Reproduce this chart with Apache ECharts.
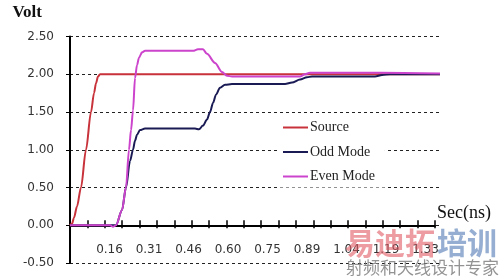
<!DOCTYPE html>
<html><head><meta charset="utf-8">
<script src="https://cdn.jsdelivr.net/npm/echarts@6/dist/echarts.min.js"></script>
<style>html,body{margin:0;padding:0;background:#fff}#c{width:500px;height:280px}</style>
</head><body><div id="c"></div>
<script>
// Data (x in ns, y in volts)
const seriesNames = ['Source', 'Odd Mode', 'Even Mode'];
const sourceX = [0, 0.0074, 0.0148, 0.0259, 0.0407, 0.0592, 0.0778, 0.0889, 0.0963, 0.1037, 0.1111, 1.3699];
const sourceY = [0, 0.02, 0.1, 0.25, 0.5, 1.0, 1.5, 1.75, 1.88, 1.97, 2.0, 2.0];
const oddX = [0, 0.1703, 0.1925, 0.2073, 0.2222, 0.2333, 0.2407, 0.2481, 0.2592, 0.2777, 0.4628, 0.4776, 0.4924, 0.5072, 0.5184, 0.5295, 0.5406, 0.5554, 0.5739, 0.5998, 0.7961, 0.8220, 0.8516, 0.8775, 0.8960, 1.1293, 1.1552, 1.1848, 1.3699];
const oddY = [0, 0, 0.2, 0.5, 0.85, 1.0, 1.12, 1.2, 1.26, 1.28, 1.28, 1.27, 1.32, 1.4, 1.5, 1.62, 1.73, 1.82, 1.86, 1.87, 1.87, 1.89, 1.93, 1.96, 1.97, 1.97, 1.99, 2.0, 2.0];
const evenX = [0, 0.1481, 0.1592, 0.1703, 0.1925, 0.2073, 0.2184, 0.2259, 0.2333, 0.2407, 0.2481, 0.2555, 0.2666, 0.2777, 0.4554, 0.4739, 0.4924, 0.5072, 0.5369, 0.5628, 0.5813, 0.5998, 0.8516, 0.8701, 0.8886, 1.1478, 1.3699];
const evenY = [0, 0, -0.02, 0, 0.2, 0.5, 1.0, 1.26, 1.52, 1.95, 2.12, 2.22, 2.29, 2.31, 2.31, 2.33, 2.33, 2.27, 2.15, 2.03, 1.98, 1.97, 1.97, 2.0, 2.02, 2.02, 2.01];
const xTickLabels = ['0.16', '0.31', '0.46', '0.60', '0.75', '0.89', '1.04', '1.19', '1.33'];
const yMin = -0.5, yMax = 2.5, yStep = 0.5;
const tickStep = 0.06435, tickCount = 21;
const labelStep = 0.14625;
const dataXMax = 1.3773;

const zip = (xs, ys) => xs.map((x, i) => [x, ys[i]]);
const colors = ['#c8323a', '#1a1a55', '#cc44cc'];
const serif = 'Liberation Serif';
const gridTop = 36.5, gridBottom = 17, chartH = 280;
// raise the bottom axes to the y = 0 line of the value scale
const zeroOffset = -((0 - yMin) / (yMax - yMin)) * (chartH - gridTop - gridBottom);

const chart = echarts.init(document.getElementById('c'), null, {renderer: 'canvas'});
const axisMax = tickStep * tickCount;
chart.setOption({
  animation: false,
  backgroundColor: '#fff',
  grid: [
    {left: 70, right: 58, top: gridTop, bottom: gridBottom, containLabel: false, outerBoundsMode: 'none'},
    {left: 70, right: 65, top: gridTop, bottom: gridBottom, containLabel: false, outerBoundsMode: 'none'}
  ],
  xAxis: [
    {gridIndex: 0, type: 'value', min: 0, max: dataXMax, show: false},
    {gridIndex: 1, type: 'value', position: 'bottom', offset: zeroOffset, min: 0, max: axisMax, interval: tickStep,
      axisLine: {show: true, onZero: false, lineStyle: {color: '#000', width: 2}},
      axisTick: {show: true, length: 3, lineStyle: {color: '#000', width: 1.5}},
      axisLabel: {show: false}, splitLine: {show: false},
      name: 'Sec(ns)', nameLocation: 'end', nameGap: 2,
      nameTextStyle: {fontFamily: serif, fontSize: 18, color: '#111', align: 'left', verticalAlign: 'bottom', lineHeight: 24}
    },
    {gridIndex: 1, type: 'value', position: 'bottom', offset: zeroOffset, min: 0, max: axisMax, interval: tickStep,
      axisLine: {show: false, onZero: false},
      axisTick: {show: true, inside: true, length: 5, lineStyle: {color: '#000', width: 1.5}},
      axisLabel: {show: false}, splitLine: {show: false}
    },
    {gridIndex: 1, type: 'value', position: 'bottom', offset: zeroOffset, min: 0, max: axisMax, interval: labelStep,
      axisLine: {show: false, onZero: false},
      axisTick: {show: false}, splitLine: {show: false},
      axisLabel: {show: true, margin: 19, fontFamily: 'DejaVu Sans', fontSize: 12, color: '#333',
        showMinLabel: false,
        formatter: v => {
          const k = Math.round(v / labelStep);
          if (Math.abs(v / labelStep - k) > 0.01) return '';
          return xTickLabels[k - 1] || '';
        }}
    }
  ],
  yAxis: [
    {gridIndex: 0, type: 'value', min: yMin, max: yMax, interval: yStep,
      axisLine: {show: true, onZero: false, lineStyle: {color: '#000', width: 2}},
      axisTick: {show: true, length: 4, lineStyle: {color: '#000'}},
      axisLabel: {margin: 16, fontFamily: 'DejaVu Sans', fontSize: 12, color: '#333', formatter: v => v.toFixed(2)},
      splitLine: {show: true, lineStyle: {color: '#222', width: 1, type: [3, 3]}},
      name: 'Volt', nameLocation: 'end', nameGap: 15,
      nameTextStyle: {fontFamily: serif, fontSize: 17, fontWeight: 'bold', color: '#111', align: 'right', padding: [0, 28, 0, 0]}
    },
    {gridIndex: 1, type: 'value', min: yMin, max: yMax, interval: yStep, show: false}
  ],
  legend: {
    orient: 'vertical', left: 280, top: 116.5, icon: 'rect', itemWidth: 25, itemHeight: 2, itemGap: 10.5,
    backgroundColor: '#fff', padding: [4, 10, 4, 3],
    textStyle: {fontFamily: serif, fontSize: 14, color: '#222', padding: [0, 0, 0, -3]},
    data: seriesNames
  },
  series: [
    {name: seriesNames[0], type: 'line', xAxisIndex: 0, yAxisIndex: 0, data: zip(sourceX, sourceY), showSymbol: false, smooth: 0.3, smoothMonotone: 'x', lineStyle: {color: colors[0], width: 2}, itemStyle: {color: colors[0]}},
    {name: seriesNames[1], type: 'line', xAxisIndex: 0, yAxisIndex: 0, data: zip(oddX, oddY), showSymbol: false, smooth: 0.3, smoothMonotone: 'x', lineStyle: {color: colors[1], width: 2}, itemStyle: {color: colors[1]}},
    {name: seriesNames[2], type: 'line', xAxisIndex: 0, yAxisIndex: 0, data: zip(evenX, evenY), showSymbol: false, smooth: 0.3, smoothMonotone: 'x', lineStyle: {color: colors[2], width: 2}, itemStyle: {color: colors[2]}}
  ],
  graphic: [
    {type: 'text', left: 345, top: 228, z: 100, style: {text: '易迪拓', font: 'bold 30px "Noto Sans CJK SC"', fill: 'rgba(225,90,100,0.6)'}},
    {type: 'text', left: 437, top: 228, z: 100, style: {text: '培训', font: 'bold 30px "Noto Sans CJK SC"', fill: 'rgba(80,120,180,0.6)'}},
    {type: 'text', left: 346, top: 259, z: 100, style: {text: '射频和天线设计专家', font: '17px "Noto Sans CJK SC"', fill: 'rgba(120,120,120,0.8)'}}
  ]
});
</script></body></html>
